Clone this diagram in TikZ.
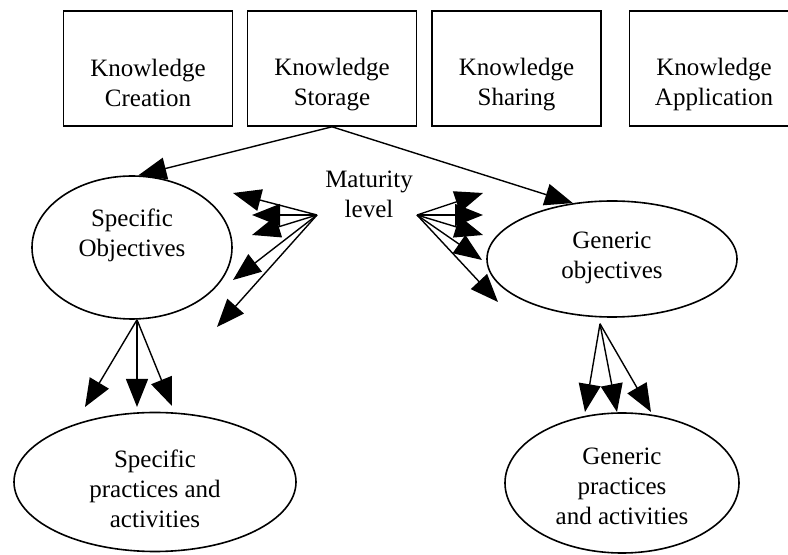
\documentclass[tikz,border=0pt]{standalone}
\usepackage{fontspec}
\setmainfont{Liberation Serif}
\usetikzlibrary{arrows.meta,shapes.geometric}
\tikzstyle{kbox}=[draw,line width=0.8pt,minimum width=84.5pt,minimum height=57.5pt,inner sep=0pt]
\tikzstyle{goal}=[draw,ellipse,line width=0.8pt,inner sep=0pt]
\tikzstyle{words}=[align=center,font=\fontsize{12.5}{15}\selectfont]
\tikzstyle{arr}=[line width=0.7pt,-{Triangle[length=14pt,width=11pt]}]

\begin{document}
\begin{tikzpicture}[x=0.5pt,y=-0.5pt]
	\useasboundingbox (0,0) rectangle (788,555);
	\clip (0,0) rectangle (788,555);
	% knowledge processes
	\node [kbox,label={[words,yshift=-7.2pt]center:{Knowledge\\Creation}}] (kcreate) at (148,68.5) {};
	\node [kbox,label={[words,yshift=-7.8pt]center:{Knowledge\\Storage}}] (kstore) at (332,68.5) {};
	\node [kbox,label={[words,yshift=-7.8pt]center:{Knowledge\\Sharing}}] (kshare) at (516.5,68.5) {};
	\node [kbox,label={[words,yshift=-7.8pt]center:{Knowledge\\Application}}] (kapply) at (714,68.5) {};
	% objectives
	\node [goal,minimum width=100pt,minimum height=71.5pt,label={[words,yshift=6pt]center:{Specific\\Objectives}}] (specobj) at (132,247.5) {};
	\node [goal,minimum width=125pt,minimum height=58pt,label={[words,yshift=0.8pt]center:{Generic\\objectives}}] (genobj) at (612,259) {};
	\node [words] (matur) at (369,194) {Maturity\\level};
	% practices
	\node [goal,minimum width=141pt,minimum height=69.5pt,label={[words,yshift=-3.2pt]center:{Specific\\practices and\\activities}}] (specprac) at (155,482) {};
	\node [goal,minimum width=117pt,minimum height=70pt,label={[words,yshift=-1.9pt]center:{Generic\\practices\\and activities}}] (genprac) at (622,483) {};

	\draw [arr] (kstore.south) -- (specobj.85);
	\draw [arr] (kstore.south) -- (genobj.125);

	% maturity level fans
	\coordinate (matleft) at (317,215);
	\coordinate (matright) at (417,215);
	\foreach \x/\y [count=\i] in {233/193,252/215,252/235,233/280,217/327}{
		\coordinate (lt\i) at (\x,\y);
		\draw [arr] (matleft) -- (lt\i);
	}
	\foreach \x/\y [count=\i] in {483/193,483/215,483/235,482/260,498/302}{
		\coordinate (rt\i) at (\x,\y);
		\draw [arr] (matright) -- (rt\i);
	}

	% down to the practices
	\foreach \x/\y [count=\i] in {85/407,137/407,172/406}{
		\coordinate (sp\i) at (\x,\y);
		\draw [arr] ([xshift=2.5pt]specobj.south) -- (sp\i);
	}
	\foreach \x/\y [count=\i] in {585/412,617/412,651/412}{
		\coordinate (gp\i) at (\x,\y);
		\draw [arr] ([xshift=-6pt,yshift=-3pt]genobj.south) -- (gp\i);
	}
\end{tikzpicture}
\end{document}
